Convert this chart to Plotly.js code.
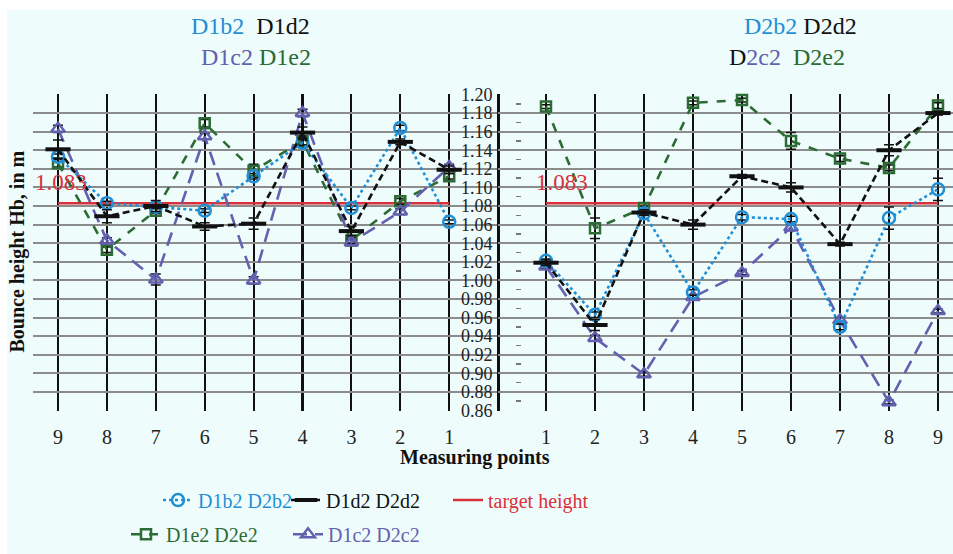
<!DOCTYPE html>
<html>
<head>
<meta charset="utf-8">
<script src="https://cdn.plot.ly/plotly-3.0.1.min.js"></script>
<style>
  html, body { margin: 0; padding: 0; background: #ffffff; }
  #chart { position: absolute; left: 7px; top: 10px; width: 946px; height: 544px; }
</style>
</head>
<body>
<div id="chart"></div>
<script>
// ---------- data ----------
const leftCats  = ['9','8','7','6','5','4','3','2','1'];
const rightCats = ['1','2','3','4','5','6','7','8','9'];

// Left panel (measuring points 9 -> 1)
const b2Left = [1.133, 1.083, 1.079, 1.075, 1.112, 1.148, 1.078, 1.164, 1.063];
const d2Left = [1.141, 1.069, 1.080, 1.058, 1.061, 1.159, 1.053, 1.149, 1.119];
const e2Left = [1.126, 1.033, 1.075, 1.169, 1.118, 1.150, 1.043, 1.085, 1.112];
const c2Left = [1.163, 1.043, 1.001, 1.155, 1.000, 1.180, 1.041, 1.074, 1.122];

// Right panel (measuring points 1 -> 9)
const b2Right = [1.021, 0.963, 1.072, 0.987, 1.068, 1.066, 0.950, 1.067, 1.098];
const d2Right = [1.019, 0.952, 1.073, 1.060, 1.112, 1.100, 1.039, 1.140, 1.180];
const e2Right = [1.187, 1.056, 1.078, 1.191, 1.194, 1.150, 1.131, 1.121, 1.188];
const c2Right = [1.015, 0.938, 0.899, 0.982, 1.008, 1.057, 0.957, 0.869, 0.967];

// error bars (±)
const b2ErrLeft  = [0.003, 0.002, 0.002, 0.002, 0.003, 0.003, 0.002, 0.003, 0.002];
const d2ErrLeft  = [0.010, 0.007, 0.006, 0.004, 0.006, 0.006, 0.005, 0.003, 0.004];
const e2ErrLeft  = [0.004, 0.003, 0.003, 0.004, 0.007, 0.004, 0.003, 0.003, 0.003];
const c2ErrLeft  = [0.004, 0.003, 0.006, 0.003, 0.004, 0.004, 0.003, 0.003, 0.003];
const b2ErrRight = [0.002, 0.003, 0.002, 0.003, 0.003, 0.003, 0.003, 0.012, 0.012];
const d2ErrRight = [0.003, 0.006, 0.003, 0.005, 0.002, 0.005, 0.002, 0.006, 0.002];
const e2ErrRight = [0.002, 0.011, 0.002, 0.002, 0.002, 0.009, 0.003, 0.003, 0.003];
const c2ErrRight = [0.002, 0.003, 0.002, 0.002, 0.002, 0.003, 0.003, 0.002, 0.002];

const targetHeight = 1.083;
const yTicks = [0.86,0.88,0.90,0.92,0.94,0.96,0.98,1.00,1.02,1.04,1.06,1.08,1.10,1.12,1.14,1.16,1.18,1.20];

// ---------- styling ----------
const BLUE = '#1f8fd6', BLACK = '#111111', GREEN = '#2c6b34', PURPLE = '#6360b0', RED = '#d9313b';
const SERIF = 'Liberation Serif';

function series(name, color, dash, symbol, size, mlw, yL, yR, eL, eR, legendId) {
  const common = {
    type: 'scatter', mode: 'lines+markers', name: name, legendgroup: name,
    line: {color: color, width: 2.6, dash: dash},
    marker: {symbol: symbol, size: size, color: color, line: {color: color, width: mlw}},
    cliponaxis: false
  };
  return [
    Object.assign({}, common, {x: leftCats, y: yL, xaxis: 'x', yaxis: 'y', showlegend: true, legend: legendId,
      error_y: {type: 'data', array: eL, visible: true, color: BLACK, thickness: 1.5, width: 5}}),
    Object.assign({}, common, {x: rightCats, y: yR, xaxis: 'x2', yaxis: 'y', showlegend: false, legend: legendId,
      error_y: {type: 'data', array: eR, visible: true, color: BLACK, thickness: 1.5, width: 5}})
  ];
}

const traces = [];
// target lines
traces.push({type:'scatter', mode:'lines', name:'target height', legendgroup:'t', legend:'legend3',
  x:[leftCats[0], leftCats[leftCats.length-1]], y:[targetHeight, targetHeight], xaxis:'x', yaxis:'y',
  line:{color:RED, width:2.6}, showlegend:true});
traces.push({type:'scatter', mode:'lines', name:'target height', legendgroup:'t', legend:'legend3',
  x:[rightCats[0], rightCats[rightCats.length-1]], y:[targetHeight, targetHeight], xaxis:'x2', yaxis:'y',
  line:{color:RED, width:2.6}, showlegend:false});

traces.push(...series('D1e2 D2e2', GREEN, 'dash', 'square-open', 10, 2.5, e2Left, e2Right, e2ErrLeft, e2ErrRight, 'legend4'));
traces.push(...series('D1c2 D2c2', PURPLE, '14px,8px', 'triangle-up-open', 12, 2.5, c2Left, c2Right, c2ErrLeft, c2ErrRight, 'legend5'));
traces.push(...series('D1b2 D2b2', BLUE, 'dot', 'circle-open', 12, 2.5, b2Left, b2Right, b2ErrLeft, b2ErrRight, 'legend'));
traces.push(...series('D1d2 D2d2', BLACK, '7px,4px', 'line-ew-open', 18, 4, d2Left, d2Right, d2ErrLeft, d2ErrRight, 'legend2'));

// dummy trace for minor-tick axis
traces.push({type:'scatter', mode:'markers', x:[rightCats[0]], y:[1.0], xaxis:'x2', yaxis:'y2', marker:{opacity:0}, showlegend:false, hoverinfo:'skip'});

// ---------- geometry (page px -> paper) ----------
const plotL = 33, plotR = 953, plotT = 94, plotB = 418;
const W = plotR - plotL, H = plotB - plotT;
const px = v => (v - plotL) / W;
const py = v => (plotB - v) / H;
const split = px(498);

function legendAt(xPage, yPage, color) {
  return {x: px(xPage), y: py(yPage), xanchor: 'left', yanchor: 'middle', orientation: 'h',
    bgcolor: 'rgba(0,0,0,0)', borderwidth: 0, font: {family: SERIF, size: 20, color: color}, tracegroupgap: 0};
}

const xCommon = {
  type: 'category', showgrid: true, gridcolor: BLACK, gridwidth: 2.2, zeroline: false,
  showline: false, ticks: '', tickfont: {family: SERIF, size: 20, color: '#222'}, ticklabelstandoff: 12,
  fixedrange: true
};

const layout = {
  width: 946, height: 544,
  margin: {l: plotL - 7, r: 0, t: plotT - 10, b: 554 - plotB},
  paper_bgcolor: '#effcfc', plot_bgcolor: 'rgba(0,0,0,0)',
  showlegend: true,
  font: {family: SERIF},
  xaxis: Object.assign({}, xCommon, {domain: [0, split], categoryorder: 'array', categoryarray: leftCats,
    range: [(plotL - 58) / 48.9, (498 - 58) / 48.9], anchor: 'y'}),
  xaxis2: Object.assign({}, xCommon, {domain: [split, 1], categoryorder: 'array', categoryarray: rightCats,
    range: [(498 - 546) / 49, (953 - 546) / 49], anchor: 'y'}),
  yaxis: {
    range: [0.8595, 1.2005], tickmode: 'array', tickvals: yTicks, ticktext: yTicks.map(v => v.toFixed(2)),
    showgrid: true, gridcolor: '#8c8c8c', gridwidth: 2, zeroline: false,
    anchor: 'free', position: split, side: 'left', showline: true, linecolor: BLACK, linewidth: 2.5,
    ticks: '', ticklabelstandoff: 1, tickfont: {family: SERIF, size: 18, color: '#222'}, fixedrange: true
  },
  yaxis2: {
    range: [0.8595, 1.2005], overlaying: 'y', anchor: 'free', position: px(521), side: 'left',
    tickmode: 'linear', tick0: 0.87, dtick: 0.02, ticks: 'outside', ticklen: 5, tickwidth: 1.5, tickcolor: '#777',
    showticklabels: false, showgrid: false, zeroline: false, showline: false, fixedrange: true
  },
  legend:  legendAt(158, 509, BLUE),
  legend2: legendAt(286, 509, BLACK),
  legend3: legendAt(448, 509, RED),
  legend4: legendAt(126, 544, GREEN),
  legend5: legendAt(288, 544, PURPLE),
  annotations: [
    {xref:'paper', yref:'paper', x: px(250), y: py(24), showarrow:false, xanchor:'center', yanchor:'middle',
     font:{family:SERIF, size:24}, text:`<span style="color:${BLUE}">D1b2</span>&nbsp;&nbsp;<span style="color:${BLACK}">D1d2</span>`},
    {xref:'paper', yref:'paper', x: px(256), y: py(56), showarrow:false, xanchor:'center', yanchor:'middle',
     font:{family:SERIF, size:24}, text:`<span style="color:${PURPLE}">D1c2</span> <span style="color:${GREEN}">D1e2</span>`},
    {xref:'paper', yref:'paper', x: px(800), y: py(24), showarrow:false, xanchor:'center', yanchor:'middle',
     font:{family:SERIF, size:24}, text:`<span style="color:${BLUE}">D2b2</span> <span style="color:${BLACK}">D2d2</span>`},
    {xref:'paper', yref:'paper', x: px(787), y: py(56), showarrow:false, xanchor:'center', yanchor:'middle',
     font:{family:SERIF, size:24}, text:`<span style="color:${BLACK}">D</span><span style="color:${PURPLE}">2c2</span>&nbsp;&nbsp;<span style="color:${GREEN}">D2e2</span>`},
    {xref:'paper', yref:'paper', x: px(33), y: py(184), showarrow:false, xanchor:'left', yanchor:'middle',
     font:{family:SERIF, size:23, color:RED}, text: String(targetHeight)},
    {xref:'paper', yref:'paper', x: px(534), y: py(184), showarrow:false, xanchor:'left', yanchor:'middle',
     font:{family:SERIF, size:23, color:RED}, text: String(targetHeight)},
    {xref:'paper', yref:'paper', x: px(475), y: py(466), showarrow:false, xanchor:'center', yanchor:'middle',
     font:{family:SERIF, size:20, color:'#111'}, text:'<b>Measuring points</b>'},
    {xref:'paper', yref:'paper', x: px(18), y: py(255), showarrow:false, xanchor:'center', yanchor:'middle', textangle:-90,
     font:{family:SERIF, size:20, color:'#111'}, text:'<b>Bounce height Hb, in m</b>'}
  ]
};

Plotly.newPlot('chart', traces, layout, {displayModeBar: false, staticPlot: true});
</script>
</body>
</html>
